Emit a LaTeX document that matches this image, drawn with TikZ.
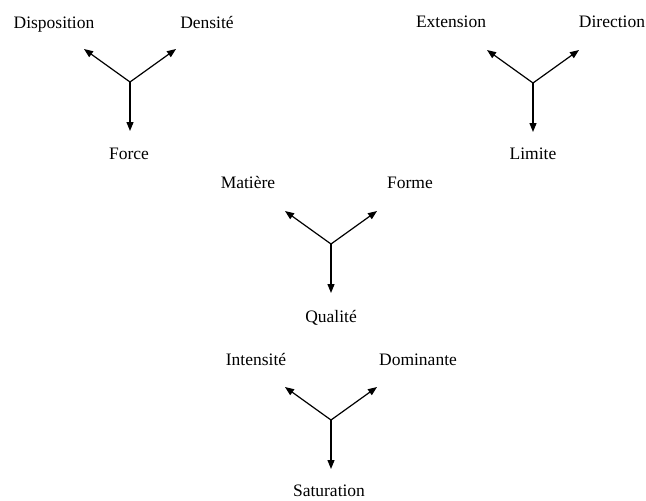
\documentclass[tikz,border=0pt]{standalone}
\usepackage{fontspec}
\setmainfont{Liberation Serif}
\usetikzlibrary{arrows.meta,positioning}

\begin{document}
\begin{tikzpicture}[x=0.5pt, y=-0.5pt, font=\fontsize{8.75}{10}\selectfont,
  lbl/.style={anchor=base, inner sep=0pt},
  arrow/.style={-{Triangle[length=4.5pt, width=3.5pt]}, line width=0.6pt, draw=black}]
  \useasboundingbox (0,0) rectangle (646,500);
  % branch points
  \coordinate (force) at (130,82);
  \coordinate (limite) at (533,83);
  \coordinate (qualite) at (331,244);
  \coordinate (saturation) at (331,420);
  \foreach \h in {force,limite,qualite,saturation}{
    \draw[arrow] (\h) -- ++(-46,-33) coordinate (\h-l);
    \draw[arrow] (\h) -- ++(46,-33) coordinate (\h-r);
    \draw[arrow] (\h) -- ++(0,49) coordinate (\h-d);
  }
  \node[lbl] (disposition) at (54,28) {Disposition};
  \node[lbl] (densite) at (207,28) {Densité};
  \node[lbl] (forcelbl) at (129,159) {Force};
  \node[lbl] (extension) at (451,27) {Extension};
  \node[lbl] (direction) at (612,27) {Direction};
  \node[lbl] (limitelbl) at (533,159) {Limite};
  \node[lbl] (matiere) at (248,188) {Matière};
  \node[lbl] (forme) at (410,188) {Forme};
  \node[lbl] (qualitelbl) at (331,322) {Qualité};
  \node[lbl] (intensite) at (256,365) {Intensité};
  \node[lbl] (dominante) at (418,365) {Dominante};
  \node[lbl] (saturationlbl) at (329,496) {Saturation};
\end{tikzpicture}
\end{document}
